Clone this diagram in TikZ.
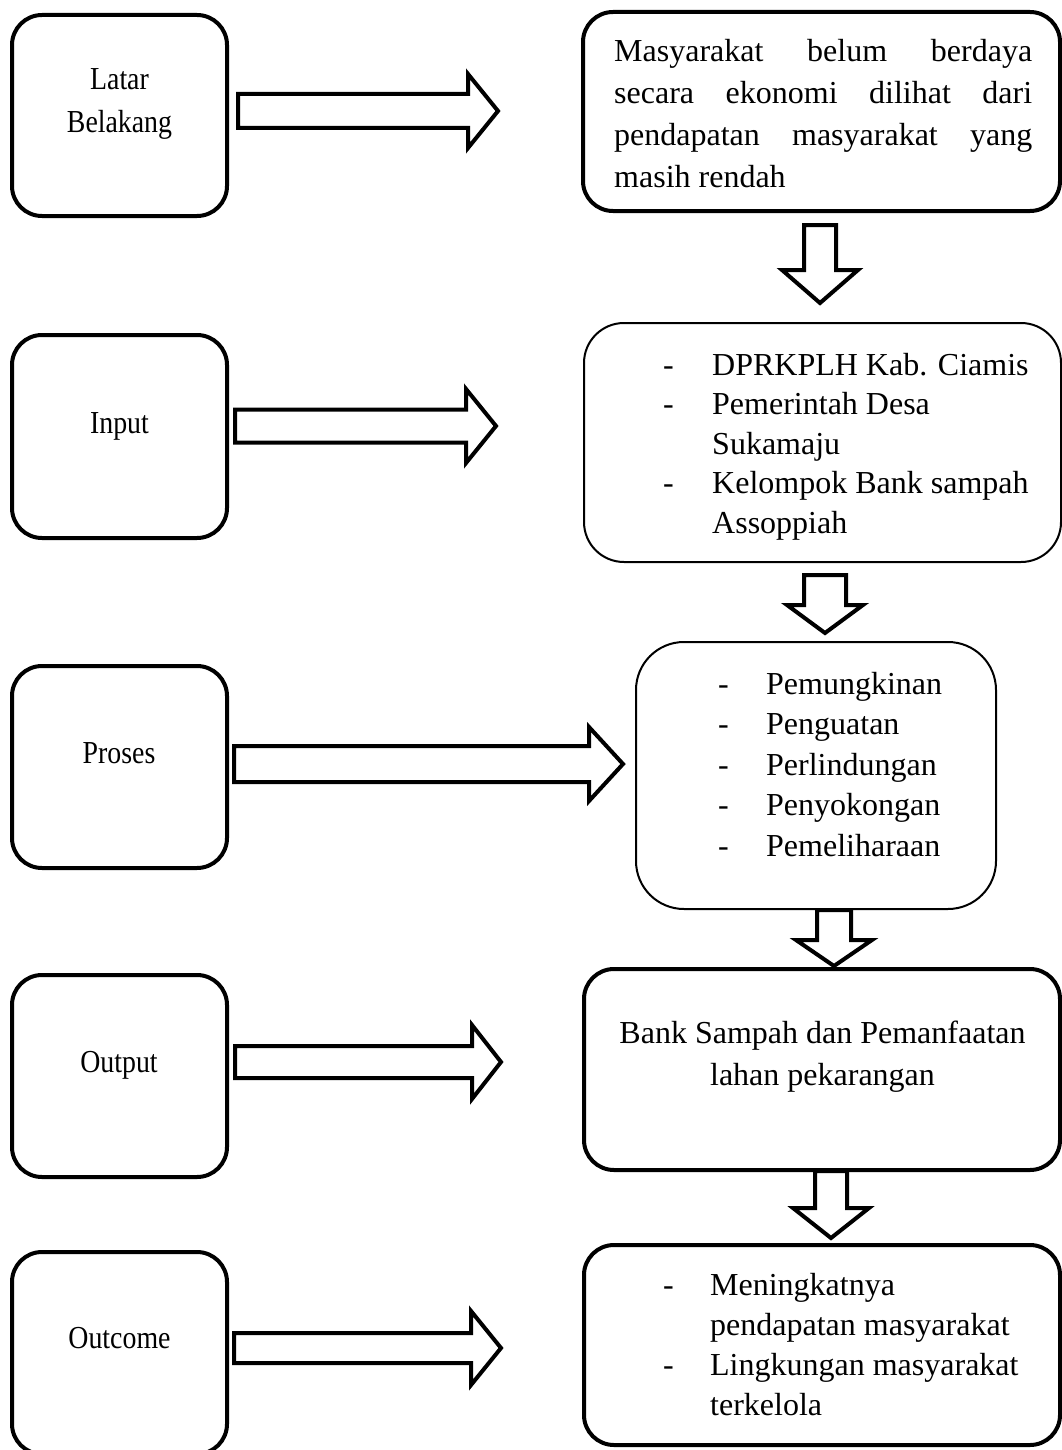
\documentclass[tikz,border=0pt]{standalone}
\usepackage{fontspec}
\setmainfont{Liberation Serif}
\usetikzlibrary{calc}
\tikzset{
  thickbox/.style={draw, line width=4pt, rounded corners=30pt, inner sep=0pt},
  thinbox/.style={draw, line width=2pt, inner sep=0pt},
  leftbox/.style={thickbox, minimum width=215pt, minimum height=202pt},
  lbl/.style={inner sep=0pt, anchor=base, font=\fontsize{32}{43}\selectfont},
  txt/.style={inner sep=0pt, anchor=base west},
  blk/.style={draw, line width=4pt, line join=miter, fill=white},
  blockh/.style n args={3}{to path={let \p1=(\tikztostart), \p2=(\tikztotarget) in
    (\x1,\y1+#1) -- (\x2-#3,\y1+#1) -- (\x2-#3,\y1+#2) -- (\x2,\y1) -- (\x2-#3,\y1-#2) -- (\x2-#3,\y1-#1) -- (\x1,\y1-#1) -- cycle}},
  blockv/.style n args={3}{to path={let \p1=(\tikztostart), \p2=(\tikztotarget) in
    (\x1-#1,\y1) -- (\x1-#1,\y2+#3) -- (\x1-#2,\y2+#3) -- (\x1,\y2) -- (\x1+#2,\y2+#3) -- (\x1+#1,\y2+#3) -- (\x1+#1,\y1) -- cycle}},
}
\newcommand\condensed[1]{\scalebox{0.87}[1]{#1}}
\newcommand\dashitem[1]{\makebox[#1][l]{-}}
\begin{document}
\begin{tikzpicture}[x=1pt,y=-1pt]
\useasboundingbox (0,0) rectangle (1062,1450);

% left column boxes
\node[leftbox, minimum height=201pt] (lb1) at (119.5,115.5) {};
\node[leftbox, minimum height=203pt] (lb2) at (119.5,436.5) {};
\node[leftbox] (lb3) at (119.5,767) {};
\node[leftbox] (lb4) at (119.5,1076) {};
\node[leftbox] (lb5) at (119.5,1353) {};

\node[lbl] (ll1) at (119.5,90) {\condensed{\begin{tabular}[t]{@{}c@{}}Latar\\Belakang\end{tabular}}};
\node[lbl] (ll2) at (119.5,433) {\condensed{Input}};
\node[lbl] (ll3) at (119,763) {\condensed{Proses}};
\node[lbl] (ll4) at (119,1072) {\condensed{Output}};
\node[lbl] (ll5) at (119.5,1348) {\condensed{Outcome}};

% right column boxes
\node[thickbox, minimum width=477pt, minimum height=199pt] (rb1) at (821.5,111.5) {};
\node[thinbox, rounded corners=40pt, minimum width=477pt, minimum height=239pt] (rb2) at (822.5,442.5) {};
\node[thinbox, rounded corners=48pt, minimum width=360pt, minimum height=267pt] (rb3) at (816,775.5) {};
\node[thickbox, minimum width=476pt, minimum height=201pt] (rb4) at (822,1069.5) {};
\node[thickbox, minimum width=476pt, minimum height=200pt] (rb5) at (822,1345) {};

% right column texts
\node[txt, font=\fontsize{32}{42}\selectfont] (rt1) at (614,62) {\begin{tabular}[t]{@{}l@{}}%
\makebox[418pt][s]{Masyarakat belum berdaya}\\
\makebox[418pt][s]{secara ekonomi dilihat dari}\\
\makebox[418pt][s]{pendapatan masyarakat yang}\\
masih rendah\end{tabular}};

\node[txt, font=\fontsize{32}{39.5}\selectfont] (rt2) at (663,375) {\begin{tabular}[t]{@{}l@{}}%
\dashitem{49pt}DPRKPLH Kab. Ciamis\\
\dashitem{49pt}Pemerintah Desa\\
\hspace*{49pt}Sukamaju\\
\dashitem{49pt}Kelompok Bank sampah\\
\hspace*{49pt}Assoppiah\end{tabular}};

\node[txt, font=\fontsize{32}{40.5}\selectfont] (rt3) at (718,694) {\begin{tabular}[t]{@{}l@{}}%
\dashitem{48pt}Pemungkinan\\
\dashitem{48pt}Penguatan\\
\dashitem{48pt}Perlindungan\\
\dashitem{48pt}Penyokongan\\
\dashitem{48pt}Pemeliharaan\end{tabular}};

\node[inner sep=0pt, anchor=base, font=\fontsize{32}{42}\selectfont] (rt4) at (822.5,1043) {\begin{tabular}[t]{@{}c@{}}%
Bank Sampah dan Pemanfaatan\\
lahan pekarangan\end{tabular}};

\node[txt, font=\fontsize{32}{40}\selectfont] (rt5) at (663,1295) {\begin{tabular}[t]{@{}l@{}}%
\dashitem{47pt}Meningkatnya\\
\hspace*{47pt}pendapatan masyarakat\\
\dashitem{47pt}Lingkungan masyarakat\\
\hspace*{47pt}terkelola\end{tabular}};

% horizontal block arrows
\coordinate (h1s) at (238,111);  \coordinate (h1e) at (498,111);
\coordinate (h2s) at (235,426);  \coordinate (h2e) at (496,426);
\coordinate (h3s) at (234,764);  \coordinate (h3e) at (623,764);
\coordinate (h4s) at (235,1062); \coordinate (h4e) at (501,1062);
\coordinate (h5s) at (234,1348); \coordinate (h5e) at (501,1348);
\draw[blk] (h1s) to[blockh={17pt}{37pt}{30pt}] (h1e);
\draw[blk] (h2s) to[blockh={16.5pt}{37pt}{30pt}] (h2e);
\draw[blk] (h3s) to[blockh={18pt}{37pt}{34pt}] (h3e);
\draw[blk] (h4s) to[blockh={16pt}{37pt}{29pt}] (h4e);
\draw[blk] (h5s) to[blockh={15pt}{37pt}{30pt}] (h5e);

% vertical block arrows
\coordinate (d1s) at (820,225);  \coordinate (d1e) at (820,303);
\coordinate (d2s) at (825,575);  \coordinate (d2e) at (825,633);
\coordinate (d3s) at (834,910);  \coordinate (d3e) at (834,966);
\coordinate (d4s) at (831,1171); \coordinate (d4e) at (831,1238);
\draw[blk] (d1s) to[blockv={16pt}{38pt}{33pt}] (d1e);
\draw[blk] (d2s) to[blockv={21pt}{38pt}{28pt}] (d2e);
\draw[blk] (d3s) to[blockv={17pt}{38pt}{26pt}] (d3e);
\draw[blk] (d4s) to[blockv={16pt}{38pt}{30pt}] (d4e);
\end{tikzpicture}
\end{document}
